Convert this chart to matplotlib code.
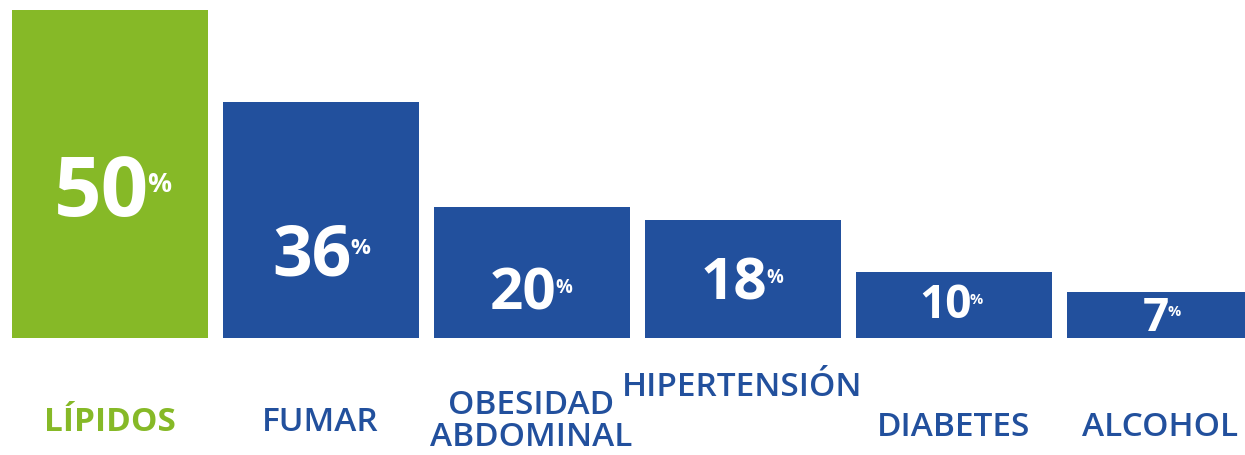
import matplotlib
matplotlib.use("Agg")
import matplotlib.pyplot as plt

# data
categories = ["LÍPIDOS", "FUMAR", "OBESIDAD\nABDOMINAL", "HIPERTENSIÓN", "DIABETES", "ALCOHOL"]
values = [50, 36, 20, 18, 10, 7]

# styling / layout
green = "#86b927"
blue = "#22509d"
bar_colors = [green, blue, blue, blue, blue, blue]
num_sizes = [60, 50, 42, 42, 33, 33]
num_y = [21.8, 12.2, 6.6, 8.2, 4.9, 3.0]        # centre of the big number (data units)
label_y = [-12.9, -12.9, -12.7, -7.6, -13.7, -13.7]

plt.rcParams['font.family'] = ['Open Sans', 'DejaVu Sans']

fig = plt.figure(figsize=(12.45, 4.55), dpi=100)
ax = fig.add_axes([0, 0, 1, 1])
x = list(range(len(values)))
ax.bar(x, values, width=196/211, color=bar_colors)
ax.set_xlim(-109.5/211, (1245-109.5)/211)
ax.set_ylim(-117/6.56, 50 + 10/6.56)
ax.axis('off')

for i, v in enumerate(values):
    t = ax.text(x[i] - 0.04, num_y[i], str(v), color='white', fontsize=num_sizes[i],
                fontweight='bold', ha='center', va='center')
    ax.annotate('%', xy=(1, 0.78), xycoords=t, xytext=(-1, 0), textcoords='offset points',
                color='white', fontsize=num_sizes[i]*0.32, fontweight='bold',
                ha='left', va='top')
    ax.text(x[i] + (-0.02 if i == 5 else 0), label_y[i], categories[i], color=bar_colors[i],
            fontsize=24, fontweight='bold' if i == 0 else 'semibold', ha='center', va='center',
            linespacing=0.95)

fig.savefig('out.png', dpi=100)
